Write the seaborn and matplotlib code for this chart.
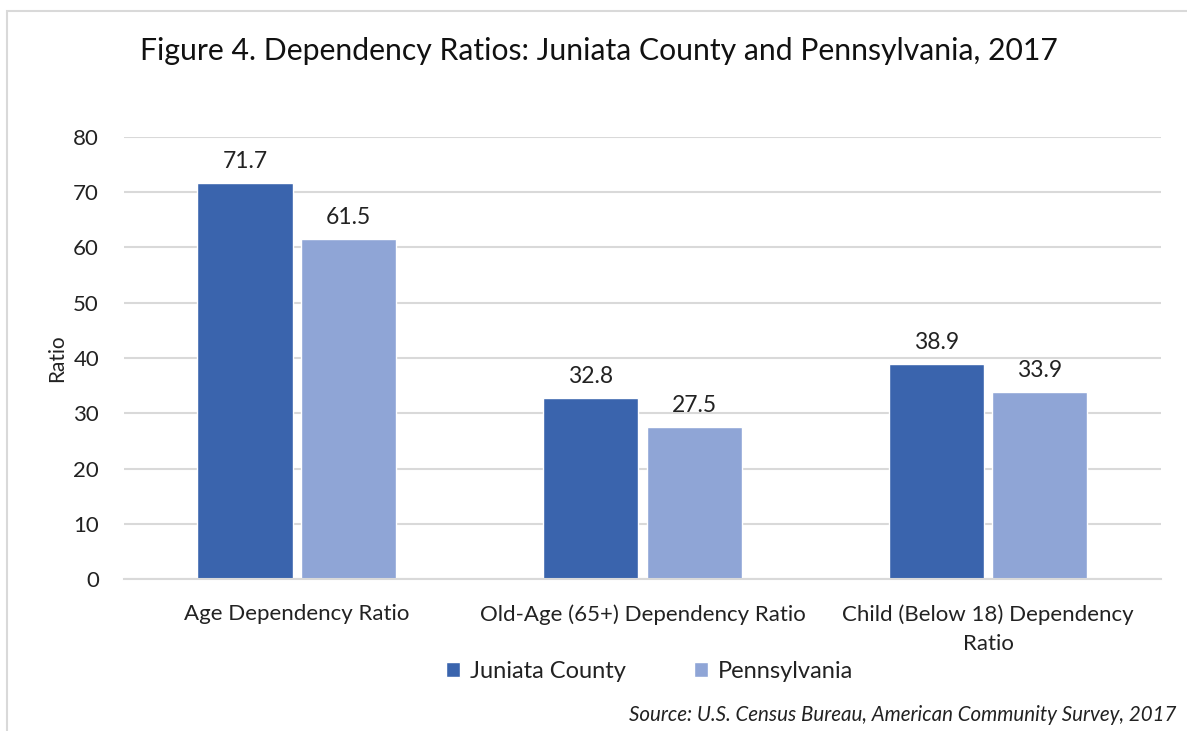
import pandas as pd
import matplotlib.pyplot as plt
import seaborn as sns
from matplotlib.patches import Rectangle

# Chart data
categories = ["Age Dependency Ratio", "Old-Age (65+) Dependency Ratio", "Child (Below 18) Dependency\nRatio"]
series_names = ["Juniata County", "Pennsylvania"]
juniata = [71.7, 32.8, 38.9]
pennsylvania = [61.5, 27.5, 33.9]

colors = ["#3A64AD", "#8FA5D6"]
grid_color = "#D9D9D9"

df = pd.DataFrame({
    "Category": categories * 2,
    "Series": [series_names[0]] * 3 + [series_names[1]] * 3,
    "Ratio": juniata + pennsylvania,
})

sns.set_style("white")
plt.rcParams["font.family"] = ["Lato", "DejaVu Sans"]

fig = plt.figure(figsize=(11.87, 7.31), dpi=100)
ax = fig.add_axes([0.1045, 0.2079, 0.8735, 0.6047])

sns.barplot(data=df, x="Category", y="Ratio", hue="Series", palette=colors,
            width=0.6, gap=0.083, ax=ax, legend=True, saturation=1)

ax.set_ylim(0, 80)
ax.set_yticks(range(0, 81, 10))
ax.set_xlim(-0.5, 2.5)
ax.grid(axis="y", color=grid_color, linewidth=1.5)
ax.set_axisbelow(True)
for side in ["top", "right", "left"]:
    ax.spines[side].set_visible(False)
ax.spines["bottom"].set_color(grid_color)
ax.spines["bottom"].set_linewidth(1.5)
ax.tick_params(axis="y", length=0, labelsize=16, colors="#222222", pad=18)
ax.tick_params(axis="x", length=0, labelsize=16, colors="#222222", pad=18)
for lbl in ax.get_xticklabels():
    lbl.set_linespacing(1.6)
ax.set_xlabel("")
ax.set_ylabel("Ratio", fontsize=15, labelpad=4, color="#222222")

# Data labels
for container in ax.containers:
    ax.bar_label(container, fmt="%.1f", padding=8, fontsize=16.5, color="#222222")

# Legend below the plot
leg = ax.legend(loc="upper center", bbox_to_anchor=(0.507, -0.137), ncol=2, frameon=False,
                fontsize=17, handlelength=0.6, handleheight=0.6, handletextpad=0.4,
                columnspacing=2.9)
for t in leg.get_texts():
    t.set_color("#222222")

fig.text(0.505, 0.93, "Figure 4. Dependency Ratios: Juniata County and Pennsylvania, 2017",
         ha="center", va="center", fontsize=21.7, color="#111111")
fig.text(0.991, 0.022, "Source: U.S. Census Bureau, American Community Survey, 2017",
         ha="right", va="center", fontsize=14.8, style="italic", color="#222222")

# Outer chart frame
fig.patches.append(Rectangle((7 / 1187, -0.1), 1.2, 1 - 11 / 731 + 0.1, transform=fig.transFigure,
                             fill=False, edgecolor=grid_color, linewidth=1.5))

fig.savefig("out.png", dpi=100)
